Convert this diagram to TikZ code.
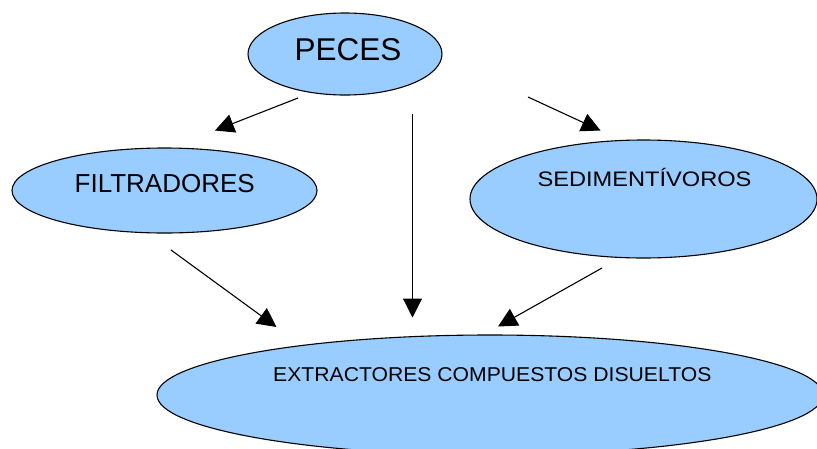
\documentclass[tikz,border=0pt]{standalone}
\usepackage{fontspec}
\setmainfont{Liberation Sans}
\usetikzlibrary{shapes.geometric,arrows.meta}
\definecolor{ellfill}{HTML}{99CCFF}
\tikzset{
  ell/.style={ellipse, draw=black, line width=1.1pt, fill=ellfill, inner sep=0pt},
  txt/.style={anchor=base, inner sep=0pt},
  conn/.style={line width=1.1pt, -{Triangle[length=19pt,width=19pt]}}
}
\begin{document}
\begin{tikzpicture}[x=1pt,y=-1pt]
\useasboundingbox (0,0) rectangle (817,448);
% ellipses
\node[ell, minimum width=194pt, minimum height=82pt] (peces) at (345,54) {};
\node[ell, minimum width=305pt, minimum height=85pt] (filt) at (164.5,190.5) {};
\node[ell, minimum width=347pt, minimum height=118pt] (sed) at (643.5,199) {};
\node[ell, minimum width=666pt, minimum height=120pt] (ext) at (490,395) {};
% texts
\node[txt] (tpeces) at (348,60.7) {\fontsize{31.5}{36}\selectfont PECES};
\node[txt] (tfilt) at (164.7,192.3) {\fontsize{26}{30}\selectfont FILTRADORES};
\node[txt] (tsed) at (644.5,186.7) {\scalebox{1.125}[1]{\fontsize{21}{25}\selectfont SEDIMENTÍVOROS}};
\node[txt] (text) at (492.3,381) {\scalebox{1.058}[1]{\fontsize{20}{24}\selectfont EXTRACTORES COMPUESTOS DISUELTOS}};
% connector end points
\coordinate (a1s) at (298,98);
\coordinate (a1e) at (215,130.5);
\coordinate (a2s) at (528,97);
\coordinate (a2e) at (600.5,130.5);
\coordinate (a3s) at (412.5,114);
\coordinate (a3e) at (412.5,317.5);
\coordinate (a4s) at (171,250);
\coordinate (a4e) at (276.5,327);
\coordinate (a5s) at (602,268);
\coordinate (a5e) at (498,326.5);
% connectors
\draw[conn] (a1s) -- (a1e);
\draw[conn] (a2s) -- (a2e);
\draw[conn] (a3s) -- (a3e);
\draw[conn] (a4s) -- (a4e);
\draw[conn] (a5s) -- (a5e);
\end{tikzpicture}
\end{document}
